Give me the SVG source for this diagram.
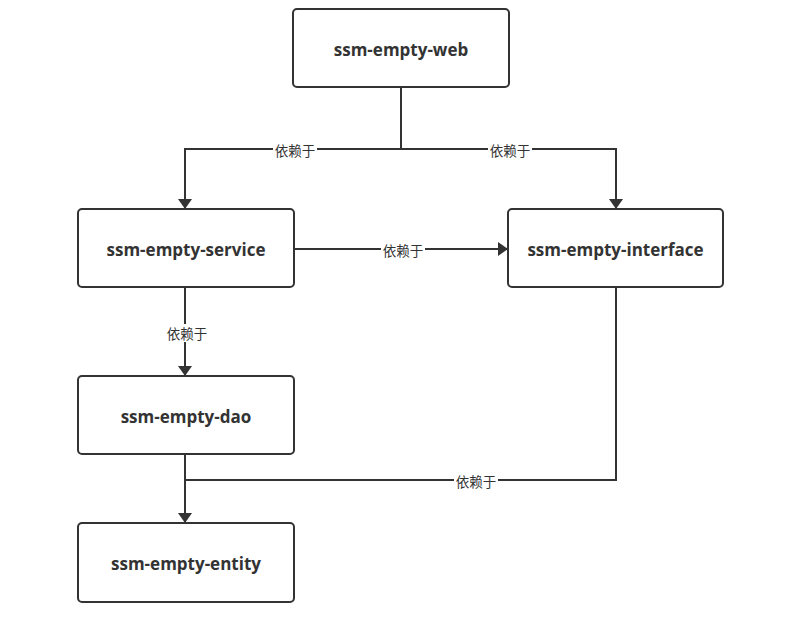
<svg xmlns="http://www.w3.org/2000/svg" width="799" height="629" viewBox="0 0 799 629">
<defs>
<style>
.node rect{fill:#fff;stroke:#333;stroke-width:2}
.node text{font-family:"Open Sans","Liberation Sans",sans-serif;font-weight:bold;font-size:17px;fill:#333;text-anchor:middle;dominant-baseline:central}
.edge{fill:none;stroke:#333;stroke-width:2}
.lbl-bg{fill:#fff}
.lbl{font-family:"Noto Sans CJK SC",sans-serif;font-size:13.5px;fill:#333;text-anchor:middle;dominant-baseline:central}
</style>
<marker id="arr" viewBox="0 0 10 14" refX="10" refY="7" markerWidth="10" markerHeight="14" markerUnits="userSpaceOnUse" orient="auto">
<path d="M0,0 L10,7 L0,14 Z" fill="#333"/>
</marker>
</defs>
<rect width="799" height="629" fill="#fff"/>
<g id="connectors">
<path class="edge" d="M401,87 V149 H185 V209" marker-end="url(#arr)"/>
<path class="edge" d="M401,149 H616 V209" marker-end="url(#arr)"/>
<path class="edge" d="M294,249 H508" marker-end="url(#arr)"/>
<path class="edge" d="M185,287 V376" marker-end="url(#arr)"/>
<path class="edge" d="M185,454 V523" marker-end="url(#arr)"/>
<path class="edge" d="M616,287 V480 H186"/>
<rect class="lbl-bg" x="273" y="141" width="44" height="16"/>
<text class="lbl" x="295" y="149.5">依赖于</text>
<rect class="lbl-bg" x="488" y="141" width="44" height="16"/>
<text class="lbl" x="510" y="149.5">依赖于</text>
<rect class="lbl-bg" x="381" y="241" width="44" height="16"/>
<text class="lbl" x="403" y="249.5">依赖于</text>
<rect class="lbl-bg" x="165" y="324" width="44" height="18"/>
<text class="lbl" x="187" y="332.5">依赖于</text>
<rect class="lbl-bg" x="454" y="472" width="44" height="16"/>
<text class="lbl" x="476" y="480.5">依赖于</text>
</g>
<g id="web" class="node"><rect x="293" y="9" width="216" height="78" rx="4"/><text x="401" y="49">ssm-empty-web</text></g>
<g id="service" class="node"><rect x="78" y="209" width="216" height="78" rx="4"/><text x="186" y="249">ssm-empty-service</text></g>
<g id="interface" class="node"><rect x="508" y="209" width="215" height="78" rx="4"/><text x="615.5" y="249">ssm-empty-interface</text></g>
<g id="dao" class="node"><rect x="78" y="376" width="216" height="78" rx="4"/><text x="186" y="416">ssm-empty-dao</text></g>
<g id="entity" class="node"><rect x="78" y="523" width="216" height="79" rx="4"/><text x="186" y="563.5">ssm-empty-entity</text></g>
</svg>
